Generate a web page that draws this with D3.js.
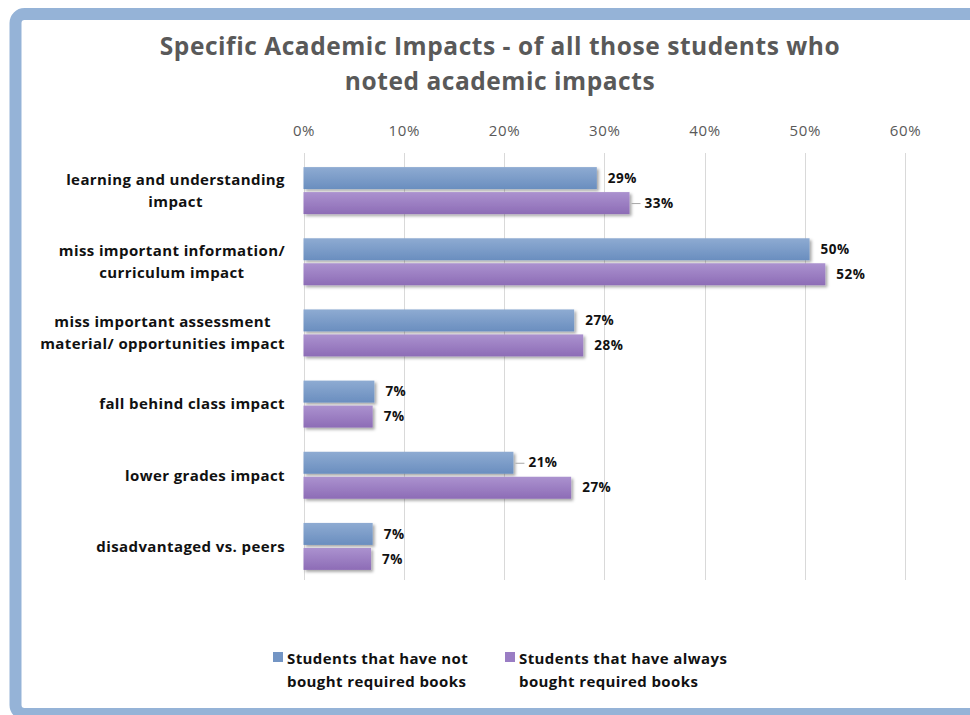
<!DOCTYPE html>
<html>
<head>
<meta charset="utf-8">
<script src="https://cdn.jsdelivr.net/npm/d3@7"></script>
<style>
  html, body { margin: 0; padding: 0; background: #ffffff; }
  svg { display: block; }
</style>
</head>
<body>
<svg id="chart" width="970" height="715"></svg>
<script>
// Categories (top to bottom) and label lines
const categories = [
  ["learning and understanding", "impact"],
  ["miss important information/", "curriculum impact"],
  ["miss important assessment", "material/ opportunities impact"],
  ["fall behind class impact"],
  ["lower grades impact"],
  ["disadvantaged vs. peers"]
];

// Series
const seriesNames = [
  ["Students that have not", "bought required books"],
  ["Students that have always", "bought required books"]
];
const notBought = [0.2926, 0.5048, 0.270, 0.0707, 0.2094, 0.069];
const alwaysBought = [0.3252, 0.5205, 0.279, 0.069, 0.267, 0.0674];

const tickValues = [0, 0.1, 0.2, 0.3, 0.4, 0.5, 0.6];

// Labels that sit a bit further out with a short leader line: [category, series]
const leaderLabels = [[0, 1], [4, 0]];

const colors = [
  { top: "#8eabd2", bottom: "#6a8ebf", legend: "#7395c4" },
  { top: "#ab92cf", bottom: "#8d6cb6", legend: "#9a7dc4" }
];

const FONT = "'Open Sans', 'Noto Sans', sans-serif";

const svg = d3.select("#chart");
const defs = svg.append("defs");

colors.forEach((c, i) => {
  const g = defs.append("linearGradient")
    .attr("id", "grad" + i).attr("x1", 0).attr("y1", 0).attr("x2", 0).attr("y2", 1);
  g.append("stop").attr("offset", "0%").attr("stop-color", c.top);
  g.append("stop").attr("offset", "100%").attr("stop-color", c.bottom);
});

const shadow = defs.append("filter").attr("id", "shadow")
  .attr("x", "-5%").attr("y", "-30%").attr("width", "115%").attr("height", "180%");
shadow.append("feDropShadow").attr("dx", 2).attr("dy", 2)
  .attr("stdDeviation", 1.5).attr("flood-color", "#000").attr("flood-opacity", 0.35);

// Frame
svg.append("rect")
  .attr("x", 15.5).attr("y", 14).attr("width", 1000).attr("height", 700)
  .attr("rx", 9).attr("ry", 9)
  .attr("fill", "#ffffff").attr("stroke", "#95b3d7").attr("stroke-width", 12);

// Title
const title = svg.append("text")
  .attr("text-anchor", "middle")
  .attr("font-family", FONT)
  .attr("font-weight", "bold").attr("font-size", 24.5)
  .attr("letter-spacing", 0.55)
  .attr("fill", "#595959");
title.append("tspan").attr("x", 500).attr("y", 55).text("Specific Academic Impacts - of all those students who");
title.append("tspan").attr("x", 500).attr("y", 90).text("noted academic impacts");

// Scales
const x = d3.scaleLinear().domain([0, 0.6]).range([303.5, 905]);
const y = d3.scaleBand().domain(d3.range(categories.length))
  .range([155, 582]).paddingInner(0.34).paddingOuter(0.17);
const ySub = d3.scaleBand().domain([0, 1]).range([0, y.bandwidth()]).paddingInner(0.12);

// Gridlines
svg.append("g").selectAll("line").data(tickValues).join("line")
  .attr("x1", d => Math.round(x(d)) + 0.5).attr("x2", d => Math.round(x(d)) + 0.5)
  .attr("y1", 153).attr("y2", 580)
  .attr("stroke", "#d9d9d9").attr("stroke-width", 1);

// Top axis labels
const axis = d3.axisTop(x).tickValues(tickValues).tickFormat(d3.format(".0%")).tickSize(0).tickPadding(0);
const axisG = svg.append("g").attr("transform", "translate(0,136)").call(axis);
axisG.select(".domain").remove();
axisG.selectAll("text")
  .attr("font-family", FONT)
  .attr("font-size", 15).attr("letter-spacing", 0.6).attr("fill", "#595959");

// Bars
const seriesData = [notBought, alwaysBought];
const fmt = d3.format(".0%");
const bars = svg.append("g");
seriesData.forEach((vals, s) => {
  bars.append("g").selectAll("rect").data(vals).join("rect")
    .attr("x", x(0))
    .attr("y", (d, i) => y(i) + ySub(s))
    .attr("width", d => x(d) - x(0))
    .attr("height", ySub.bandwidth())
    .attr("fill", "url(#grad" + s + ")")
    .attr("filter", "url(#shadow)");
});

// Data labels
const labels = svg.append("g")
  .attr("font-family", FONT)
  .attr("font-weight", "bold").attr("font-size", 13.5)
  .attr("letter-spacing", 0.5).attr("fill", "#111");
seriesData.forEach((vals, s) => {
  vals.forEach((v, i) => {
    const hasLeader = leaderLabels.some(p => p[0] === i && p[1] === s);
    const cy = y(i) + ySub(s) + ySub.bandwidth() / 2;
    const off = hasLeader ? 15 : 11;
    if (hasLeader) {
      labels.append("line")
        .attr("x1", x(v) + 2).attr("x2", x(v) + off - 4)
        .attr("y1", cy + 0.5).attr("y2", cy + 0.5)
        .attr("stroke", "#a6a6a6").attr("stroke-width", 1);
    }
    labels.append("text")
      .attr("x", x(v) + off).attr("y", cy).attr("dy", "0.35em")
      .text(fmt(v));
  });
});

// Category labels: multi-line blocks centred, right-aligned as a block
const catG = svg.append("g")
  .attr("font-family", FONT)
  .attr("font-weight", "bold").attr("font-size", 15)
  .attr("letter-spacing", 0.4).attr("fill", "#111");
const lineH = 22;
categories.forEach((lines, i) => {
  const cy = y(i) + y.bandwidth() / 2;
  const t = catG.append("text").attr("text-anchor", "middle");
  const spans = lines.map((ln, k) => t.append("tspan")
    .attr("y", cy + (k - (lines.length - 1) / 2) * lineH)
    .attr("dy", "0.35em").text(ln));
  const maxW = d3.max(spans, sp => sp.node().getComputedTextLength());
  spans.forEach(sp => sp.attr("x", 285 - maxW / 2));
});

// Legend
const legendX = [273, 505];
const legend = svg.append("g")
  .attr("font-family", FONT)
  .attr("font-weight", "bold").attr("font-size", 15)
  .attr("letter-spacing", 0.4).attr("fill", "#111");
seriesNames.forEach((lines, s) => {
  legend.append("rect")
    .attr("x", legendX[s]).attr("y", 652).attr("width", 10).attr("height", 10)
    .attr("fill", colors[s].legend);
  const t = legend.append("text");
  lines.forEach((ln, k) => t.append("tspan")
    .attr("x", legendX[s] + 14).attr("y", 664 + k * 23).text(ln));
});
</script>
</body>
</html>
